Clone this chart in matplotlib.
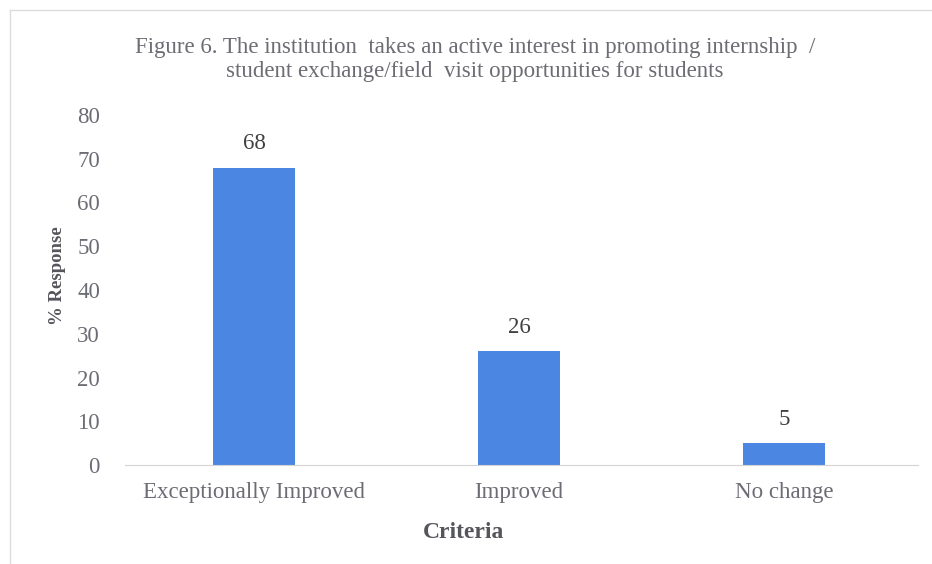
import matplotlib
matplotlib.use("Agg")
import matplotlib.pyplot as plt
from matplotlib.lines import Line2D

categories = ["Exceptionally Improved", "Improved", "No change"]
values = [68, 26, 5]
yticks = [0, 10, 20, 30, 40, 50, 60, 70, 80]

plt.rcParams['font.family'] = ['Liberation Serif', 'DejaVu Serif']

W, H = 932, 564
fig = plt.figure(figsize=(W / 100, H / 100), dpi=100)
ax = fig.add_axes([125 / W, 1 - 465 / H, 793 / W, 350 / H])

x = list(range(len(categories)))
ax.bar(x, values, width=0.31, color="#4a86e2")
for xi, v in zip(x, values):
    ax.annotate(str(v), (xi, v), xytext=(0, 17), textcoords="offset points",
                ha="center", va="center", fontsize=16.5, color="#404040")

ax.set_xlim(-0.487, 2.506)
ax.set_ylim(0, 80)
ax.set_yticks(yticks)
ax.set_xticks(x)
ax.set_xticklabels(categories)
ax.tick_params(axis="both", length=0, labelsize=16.5, labelcolor="#6c6c74")
ax.tick_params(axis="x", pad=12)
ax.tick_params(axis="y", pad=18)
for s in ["top", "right", "left"]:
    ax.spines[s].set_visible(False)
ax.spines["bottom"].set_color("#d4d4d4")

fig.text(464 / W, 1 - 533 / H, "Criteria", ha="center", va="center",
         fontsize=17, fontweight="bold", color="#55555c")
fig.text(58 / W, 1 - 276 / H, "% Response", ha="center", va="center", rotation=90,
         fontsize=13.5, fontweight="bold", color="#55555c")

fig.text(475 / W, 1 - 47 / H,
         "Figure 6. The institution  takes an active interest in promoting internship  /",
         ha="center", va="center", fontsize=16.5, color="#6c6c74")
fig.text(475 / W, 1 - 72 / H,
         "student exchange/field  visit opportunities for students",
         ha="center", va="center", fontsize=16.5, color="#6c6c74")

border = dict(transform=fig.transFigure, color="#dcdcdc", linewidth=1)
fig.add_artist(Line2D([10 / W, 1], [1 - 10 / H, 1 - 10 / H], **border))
fig.add_artist(Line2D([10 / W, 10 / W], [0, 1 - 10 / H], **border))

fig.savefig("out.png", dpi=100)
